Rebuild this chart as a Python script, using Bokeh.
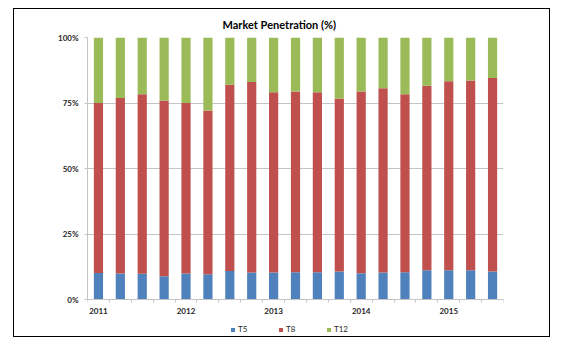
from bokeh.plotting import figure
from bokeh.models import ColumnDataSource, FixedTicker, Legend, LegendItem, Range1d
from bokeh.embed import file_html
from bokeh.resources import INLINE

# ---- data ----
quarters = ["Q1 2011", "Q2 2011", "Q3 2011", "Q4 2011",
            "Q1 2012", "Q2 2012", "Q3 2012", "Q4 2012",
            "Q1 2013", "Q2 2013", "Q3 2013", "Q4 2013",
            "Q1 2014", "Q2 2014", "Q3 2014", "Q4 2014",
            "Q1 2015", "Q2 2015", "Q3 2015"]
t5 = [10.1, 9.9, 9.8, 8.9, 9.9, 9.6, 10.9, 10.3, 10.3, 10.4, 10.4, 10.7, 10.0, 10.3, 10.4, 11.2, 11.2, 11.2, 10.7]
t8 = [64.9, 67.0, 68.5, 67.1, 65.1, 62.5, 71.1, 72.7, 68.8, 69.0, 68.7, 66.0, 69.4, 70.3, 67.9, 70.4, 72.1, 72.4, 73.8]
t12 = [25.0, 23.1, 21.7, 24.0, 25.0, 27.9, 18.0, 17.0, 20.9, 20.6, 20.9, 23.3, 20.6, 19.4, 21.7, 18.4, 16.7, 16.4, 15.5]
series = ["T5", "T8", "T12"]
colors = ["#4F81BD", "#C0504D", "#9BBB59"]
year_ticks = [0, 4, 8, 12, 16]
year_labels = ["2011", "2012", "2013", "2014", "2015"]
y_ticks = [0, 25, 50, 75, 100]
y_tick_labels = ["0%", "25%", "50%", "75%", "100%"]

src = ColumnDataSource(dict(x=list(range(len(quarters))), q=quarters, T5=t5, T8=t8, T12=t12))

FONT = "Lato"
LABEL_COLOR = "#262626"
GRID = "#c4c4c4"

# frame runs to the canvas bottom; the value axis spans 0..100 over 262 px,
# the extra 39 px below 0 hold the category labels and the legend
Y_BOTTOM = -100 * 39 / 262

p = figure(width=537, height=329, output_backend="svg", toolbar_location=None,
           x_range=Range1d(-0.5, len(quarters) - 0.5), y_range=Range1d(Y_BOTTOM, 100),
           min_border_left=73, min_border_right=48, min_border_top=28, min_border_bottom=0,
           title="Market Penetration (%)")
p.margin = (8, 0, 0, 13)
p.styles = {"border": "1px solid #000000"}
p.outline_line_color = None
p.background_fill_color = "white"
p.border_fill_color = "white"

p.title.text_font = FONT
p.title.text_font_size = "11px"
p.title.text_font_style = "bold"
p.title.text_color = "#000000"
p.title.align = "left"
p.title.offset = 135
p.title.standoff = 13

renderers = p.vbar_stack(series, x="x", width=0.42, color=colors, line_color=None, source=src)

# axes
xa = p.xaxis[0]
xa.fixed_location = 0
xa.ticker = FixedTicker(ticks=year_ticks, minor_ticks=[i - 0.5 for i in range(len(quarters) + 1)])
xa.major_label_overrides = {t: l for t, l in zip(year_ticks, year_labels)}
xa.major_tick_out = 0
xa.major_tick_in = 0
xa.minor_tick_out = 3
xa.minor_tick_in = 0
xa.minor_tick_line_color = GRID
xa.axis_line_color = GRID
xa.major_label_standoff = 5
xa.major_label_text_font = FONT
xa.major_label_text_font_size = "8px"
xa.major_label_text_font_style = "bold"
xa.major_label_text_color = LABEL_COLOR

ya = p.yaxis[0]
ya.bounds = (0, 100)
ya.ticker = FixedTicker(ticks=y_ticks)
ya.major_label_overrides = {t: l for t, l in zip(y_ticks, y_tick_labels)}
ya.major_tick_out = 3
ya.major_tick_in = 0
ya.minor_tick_out = 0
ya.minor_tick_in = 0
ya.major_tick_line_color = GRID
ya.axis_line_color = GRID
ya.major_label_standoff = 6
ya.major_label_text_font = FONT
ya.major_label_text_font_size = "8px"
ya.major_label_text_font_style = "bold"
ya.major_label_text_color = LABEL_COLOR

p.xgrid.grid_line_color = None
p.ygrid.grid_line_color = GRID
p.ygrid.grid_line_width = 1

legend = Legend(items=[LegendItem(label=s, renderers=[r]) for s, r in zip(series, renderers)],
                orientation="horizontal", location=(143, 4),
                glyph_width=5, glyph_height=5, label_standoff=3, label_width=35, label_height=10,
                spacing=5, padding=0, margin=0,
                border_line_color=None, background_fill_alpha=0,
                label_text_font=FONT, label_text_font_size="8px", label_text_color=LABEL_COLOR)
p.add_layout(legend, "center")

open("out.html", "w").write(file_html(p, INLINE))
